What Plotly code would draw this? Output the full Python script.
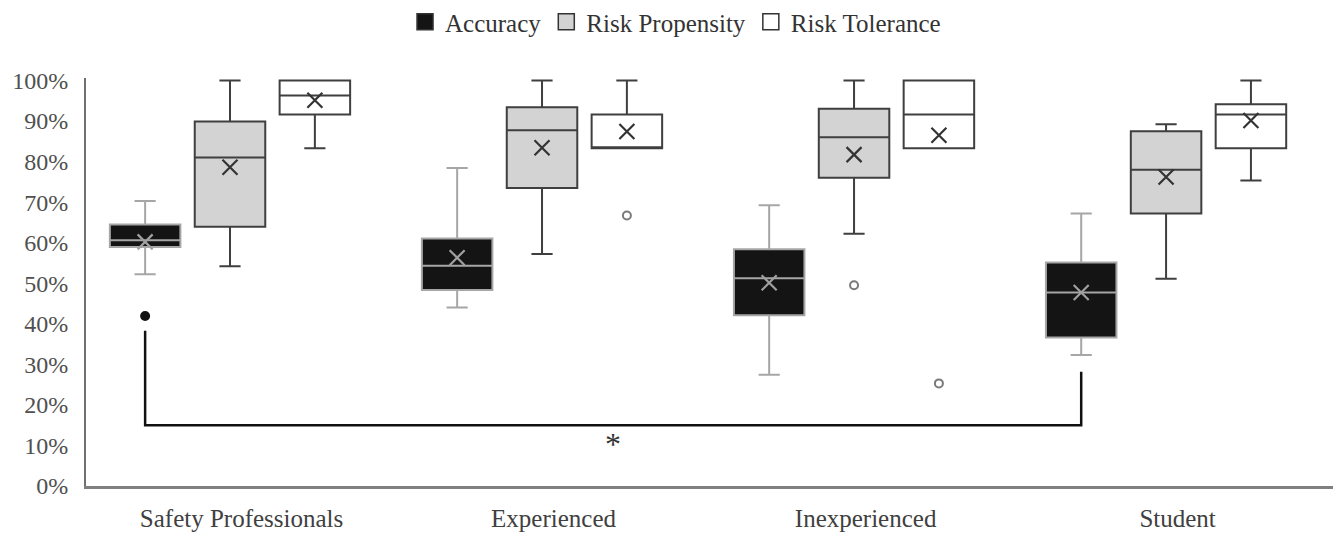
import plotly.graph_objects as go

# ---------------- data ----------------
categories = ["Safety Professionals", "Experienced", "Inexperienced", "Student"]
series_names = ["Accuracy", "Risk Propensity", "Risk Tolerance"]

acc_lower = [52.2, 44.0, 27.4, 32.3]
acc_q1 = [58.9, 48.3, 42.1, 36.6]
acc_median = [60.6, 54.3, 51.2, 47.7]
acc_q3 = [64.5, 61.0, 58.4, 55.1]
acc_upper = [70.3, 78.4, 69.2, 67.2]
acc_mean = [60.2, 56.3, 50.1, 47.7]
acc_outlier_group = [0]
acc_outlier_value = [41.9]

rp_lower = [54.2, 57.2, 62.2, 51.1]
rp_q1 = [63.9, 73.5, 76.0, 67.2]
rp_median = [81.0, 87.7, 86.0, 78.0]
rp_q3 = [89.9, 93.4, 93.0, 87.5]
rp_upper = [100.0, 100.0, 100.0, 89.2]
rp_mean = [78.6, 83.4, 81.7, 76.2]
rp_outlier_group = [2]
rp_outlier_value = [49.5]

rt_lower = [83.3, 83.3, 83.3, 75.3]
rt_q1 = [91.6, 83.3, 83.3, 83.3]
rt_median = [96.3, 83.3, 91.6, 91.6]
rt_q3 = [100.0, 91.6, 100.0, 94.1]
rt_upper = [100.0, 100.0, 100.0, 100.0]
rt_mean = [95.1, 87.4, 86.5, 90.1]
rt_outlier_group = [1, 2]
rt_outlier_value = [66.7, 25.3]

y_ticks = [0, 10, 20, 30, 40, 50, 60, 70, 80, 90, 100]
y_tick_labels = [f"{v}%" for v in y_ticks]

# significance bracket (Accuracy: Safety Professionals vs Student)
bracket_groups = [0, 3]
bracket_ends = [38.3, 28.2]
bracket_level = 15.0
bracket_label = "*"
bracket_label_y = 10.4

# ---------------- styling ----------------
FONT = "Liberation Serif"
offsets = [-0.272, 0.0, 0.272]
box_w = 0.226
label_shift = 0.037

styles = [
    dict(fill="#141414", line="#a6a6a6", mean="#a0a0a0",
         out_fill="#111111", out_line="#111111"),
    dict(fill="#d3d3d3", line="#3f3f3f", mean="#333333",
         out_fill="white", out_line="#7a7a7a"),
    dict(fill="#ffffff", line="#3f3f3f", mean="#333333",
         out_fill="white", out_line="#7a7a7a"),
]

stats = [
    (acc_lower, acc_q1, acc_median, acc_q3, acc_upper, acc_mean, acc_outlier_group, acc_outlier_value),
    (rp_lower, rp_q1, rp_median, rp_q3, rp_upper, rp_mean, rp_outlier_group, rp_outlier_value),
    (rt_lower, rt_q1, rt_median, rt_q3, rt_upper, rt_mean, rt_outlier_group, rt_outlier_value),
]

fig = go.Figure()
group_idx = list(range(len(categories)))

for k, (name, st, (lo, q1, med, q3, up, mn, og, ov)) in enumerate(zip(series_names, styles, stats)):
    xpos = [g + offsets[k] for g in group_idx]
    fig.add_trace(go.Box(
        x=xpos, q1=q1, median=med, q3=q3, lowerfence=lo, upperfence=up,
        width=box_w, whiskerwidth=0.3,
        fillcolor=st["fill"], line=dict(color=st["line"], width=2),
        name=name, showlegend=False, hoverinfo="skip", boxpoints=False,
    ))
    fig.add_trace(go.Scatter(
        x=xpos, y=mn, mode="markers", showlegend=False, hoverinfo="skip",
        marker=dict(symbol="x-thin", size=15, line=dict(color=st["mean"], width=2.2)),
    ))
    if ov:
        fig.add_trace(go.Scatter(
            x=[g + offsets[k] for g in og], y=ov, mode="markers",
            showlegend=False, hoverinfo="skip",
            marker=dict(symbol="circle", size=8, color=st["out_fill"],
                        line=dict(color=st["out_line"], width=2)),
        ))
    # legend entry
    fig.add_trace(go.Scatter(
        x=[None], y=[None], mode="markers", name=name, showlegend=True,
        marker=dict(symbol="square", size=21, color=st["fill"],
                    line=dict(color="#333333", width=1.5)),
    ))

# bracket
bx = [bracket_groups[0] + offsets[0], bracket_groups[1] + offsets[0]]
fig.add_shape(
    type="path", xref="x", yref="y",
    path=(f"M {bx[0]} {bracket_ends[0]} L {bx[0]} {bracket_level} "
          f"L {bx[1]} {bracket_level} L {bx[1]} {bracket_ends[1]}"),
    line=dict(color="#111111", width=2.5),
)
fig.add_annotation(
    x=(bx[0] + bx[1]) / 2, y=bracket_label_y, xref="x", yref="y",
    text=bracket_label, showarrow=False,
    font=dict(family=FONT, size=32, color="#333333"),
)

fig.update_layout(
    width=1334, height=525,
    margin=dict(l=78, r=9, t=70, b=47, autoexpand=False),
    paper_bgcolor="white", plot_bgcolor="white",
    font=dict(family=FONT, size=24, color="#404040"),
    boxmode="overlay",
    legend=dict(
        orientation="h", x=0.5004, xanchor="center", xref="container",
        y=0.9733, yanchor="middle", yref="container",
        font=dict(family=FONT, size=25, color="#333333"),
        itemwidth=30, tracegroupgap=0,
    ),
    xaxis=dict(
        range=[-0.4615, 3.535], tickvals=[g + label_shift for g in group_idx],
        ticktext=categories,
        showgrid=False, zeroline=False, showline=True, automargin=False,
        linecolor="#808080", linewidth=2.5, ticks="",
        tickfont=dict(family=FONT, size=25, color="#404040"),
        ticklabelstandoff=8,
    ),
    yaxis=dict(
        range=[0, 100.6], tickvals=y_ticks, ticktext=y_tick_labels,
        showgrid=False, zeroline=False, showline=True, automargin=False,
        linecolor="#707070", linewidth=2, ticks="",
        tickfont=dict(family=FONT, size=24, color="#505050"),
        ticklabelstandoff=11,
    ),
)

fig.write_html("out.html")
